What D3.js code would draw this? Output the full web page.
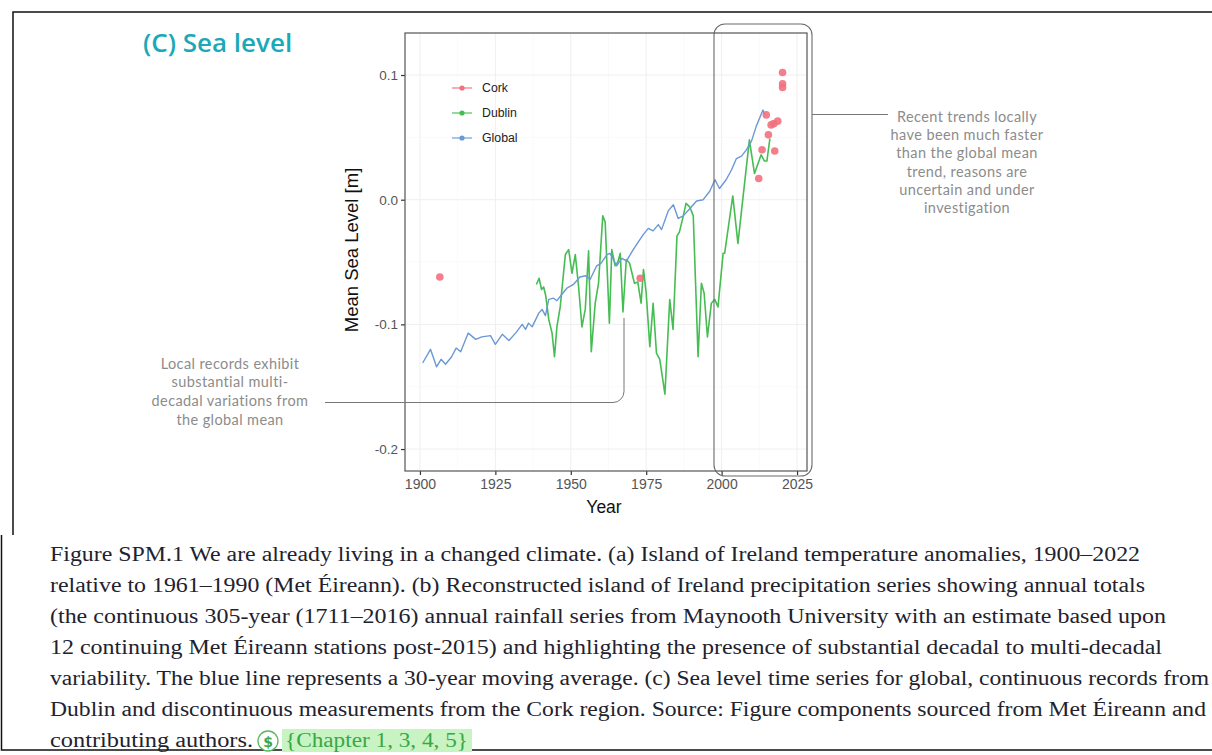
<!DOCTYPE html>
<html><head><meta charset="utf-8">
<script src="https://cdn.jsdelivr.net/npm/d3@7"></script>
<style>body{margin:0;background:#fff} svg{display:block}</style>
</head><body><svg id="c" width="1212" height="755"></svg>
<script>
// ---------------- DATA ----------------
const seriesNames = ["Cork", "Dublin", "Global"];
const globalYears  = [1900.9,1903.5,1905.5,1907,1908.5,1910.5,1912,1913.5,1915,1916,1918.5,1920.5,1923.4,1925,1927.3,1929.5,1931.7,1933.9,1935,1936,1937.2,1939.4,1940.5,1941.6,1942.7,1944.3,1945.4,1947,1948.7,1950.9,1953,1955,1956.4,1958.6,1960,1962,1963,1965.2,1966.9,1968.5,1970.7,1972.9,1974,1975.7,1977.3,1979,1980.1,1982.3,1984,1985.6,1987.3,1989.5,1991.7,1993.9,1996.1,1997.8,1999.3,2001.5,2003.3,2004.9,2006.6,2008.2,2009.9,2011.5,2013.7,2014.3];
const globalValues = [-0.131,-0.120,-0.134,-0.128,-0.132,-0.126,-0.119,-0.122,-0.113,-0.107,-0.112,-0.110,-0.109,-0.116,-0.108,-0.113,-0.107,-0.100,-0.104,-0.099,-0.102,-0.091,-0.088,-0.093,-0.080,-0.079,-0.081,-0.076,-0.071,-0.068,-0.062,-0.061,-0.064,-0.053,-0.051,-0.044,-0.043,-0.053,-0.047,-0.049,-0.040,-0.032,-0.028,-0.023,-0.025,-0.020,-0.024,-0.009,-0.004,-0.015,-0.013,-0.007,-0.001,0.000,0.007,0.016,0.009,0.016,0.024,0.033,0.035,0.040,0.047,0.059,0.072,0.068];

const dublinYears  = [1938.6,1939.5,1940.3,1941,1941.7,1942.7,1943.8,1944.6,1945.4,1946.5,1948.2,1949.3,1950.4,1951.5,1952.6,1953.7,1954.8,1955.9,1956.8,1958.1,1959.2,1960.6,1961.4,1962.8,1963.6,1964.7,1965.6,1966.4,1967.3,1968.4,1969.5,1971.1,1972.2,1973.3,1974.1,1975,1976.2,1977.3,1978.4,1979.5,1981.2,1982.8,1983.9,1985.2,1986,1987.3,1988.2,1989.5,1990.6,1992.2,1993.3,1994.2,1995.3,1996.6,1997.7,1998.8,2000.5,2001,2003.7,2005.4,2009.2,2010.9,2013.1,2014.2,2015,2016];
const dublinValues = [-0.068,-0.063,-0.072,-0.070,-0.077,-0.096,-0.107,-0.126,-0.102,-0.086,-0.044,-0.040,-0.059,-0.044,-0.070,-0.102,-0.088,-0.041,-0.122,-0.083,-0.067,-0.013,-0.018,-0.099,-0.040,-0.053,-0.050,-0.043,-0.090,-0.048,-0.051,-0.067,-0.066,-0.083,-0.056,-0.075,-0.118,-0.083,-0.123,-0.128,-0.156,-0.080,-0.104,-0.029,-0.026,-0.013,-0.003,-0.006,-0.013,-0.126,-0.067,-0.075,-0.110,-0.083,-0.080,-0.086,-0.043,-0.043,0.003,-0.035,0.048,0.021,0.036,0.031,0.031,0.049];

const corkYears  = [1906.6,1973,2012.3,2013.4,2014.8,2015.5,2016.4,2017.3,2017.6,2018.6,2020.2,2020.2,2020.2];
const corkValues = [-0.062,-0.063,0.017,0.040,0.068,0.052,0.060,0.061,0.039,0.063,0.102,0.093,0.090];

const xTicks = [1900, 1925, 1950, 1975, 2000, 2025];
const xTickLabels = ["1900", "1925", "1950", "1975", "2000", "2025"];
const yTicks = [0.1, 0.0, -0.1, -0.2];
const yTickLabels = ["0.1", "0.0", "-0.1", "-0.2"];

const titleText = "(C) Sea level";
const xTitle = "Year";
const yTitle = "Mean Sea Level [m]";
const noteRight = ["Recent trends locally", "have been much faster", "than the global mean", "trend, reasons are", "uncertain and under", "investigation"];
const noteLeft = ["Local records exhibit", "substantial multi-", "decadal variations from", "the global mean"];
const captionLines = [
  "Figure SPM.1 We are already living in a changed climate. (a) Island of Ireland temperature anomalies, 1900\u20132022",
  "relative to 1961\u20131990 (Met \u00c9ireann). (b) Reconstructed island of Ireland precipitation series showing annual totals",
  "(the continuous 305-year (1711\u20132016) annual rainfall series from Maynooth University with an estimate based upon",
  "12 continuing Met \u00c9ireann stations post-2015) and highlighting the presence of substantial decadal to multi-decadal",
  "variability. The blue line represents a 30-year moving average. (c) Sea level time series for global, continuous records from",
  "Dublin and discontinuous measurements from the Cork region. Source: Figure components sourced from Met \u00c9ireann and"
];
const captionLast = "contributing authors.";
const chapterRef = "{Chapter 1, 3, 4, 5}";

// ---------------- STYLE ----------------
const colors = { Cork: "#f2707f", Dublin: "#45bd52", Global: "#6b98d6" };
const svg = d3.select("#c");
svg.append("rect").attr("width", 1212).attr("height", 755).attr("fill", "#ffffff");

const panel = { left: 405, right: 807, top: 33, bottom: 471 };
const x = d3.scaleLinear().domain([1895.05, 2028.3]).range([panel.left, panel.right]);
const y = d3.scaleLinear().domain([-0.2176, 0.1337]).range([panel.bottom, panel.top]);

// outer frame
svg.append("path").attr("d", "M13,535 V12 H1212").attr("fill", "none").attr("stroke", "#111").attr("stroke-width", 1.5);
svg.append("path").attr("d", "M1.5,535 V750 H1212").attr("fill", "none").attr("stroke", "#111").attr("stroke-width", 1.5);

// title
svg.append("text").attr("x", 143).attr("y", 52).text(titleText)
  .attr("font-family", "Open Sans, sans-serif").attr("font-weight", 600)
  .attr("font-size", 26).attr("fill", "#1aa9b8");

// grid
const g = svg.append("g");
const minorX = d3.range(1912.5, 2028, 25);
const minorY = [0.05, -0.05, -0.15];
g.selectAll(".gxm").data(minorX).join("line").attr("x1", d => x(d)).attr("x2", d => x(d))
  .attr("y1", panel.top).attr("y2", panel.bottom).attr("stroke", "#f6f6f6").attr("stroke-width", 0.6);
g.selectAll(".gym").data(minorY).join("line").attr("y1", d => y(d)).attr("y2", d => y(d))
  .attr("x1", panel.left).attr("x2", panel.right).attr("stroke", "#f6f6f6").attr("stroke-width", 0.6);
g.selectAll(".gx").data(xTicks).join("line").attr("x1", d => x(d)).attr("x2", d => x(d))
  .attr("y1", panel.top).attr("y2", panel.bottom).attr("stroke", "#efefef").attr("stroke-width", 1);
g.selectAll(".gy").data(yTicks).join("line").attr("y1", d => y(d)).attr("y2", d => y(d))
  .attr("x1", panel.left).attr("x2", panel.right).attr("stroke", "#efefef").attr("stroke-width", 1);

// axes
const xa = svg.append("g").attr("transform", `translate(0,${panel.bottom})`)
  .call(d3.axisBottom(x).tickValues(xTicks).tickFormat((d, i) => xTickLabels[i]).tickSize(4).tickPadding(4));
const ya = svg.append("g").attr("transform", `translate(${panel.left},0)`)
  .call(d3.axisLeft(y).tickValues(yTicks).tickFormat((d, i) => yTickLabels[i]).tickSize(4).tickPadding(3));
[xa, ya].forEach(a => {
  a.select(".domain").remove();
  a.selectAll(".tick line").attr("stroke", "#333").attr("stroke-width", 1.2);
  a.selectAll(".tick text").attr("fill", "#555").attr("font-family", "Liberation Sans, Arial, sans-serif");
});
xa.selectAll(".tick text").attr("font-size", 14);
ya.selectAll(".tick text").attr("font-size", 13.5);

// panel border
svg.append("rect").attr("x", panel.left).attr("y", panel.top)
  .attr("width", panel.right - panel.left).attr("height", panel.bottom - panel.top)
  .attr("fill", "none").attr("stroke", "#555").attr("stroke-width", 1.2);

// axis titles
svg.append("text").attr("x", (panel.left + panel.right) / 2 - 2).attr("y", 513).attr("text-anchor", "middle")
  .attr("font-family", "Liberation Sans, Arial, sans-serif").attr("font-size", 17.5).attr("fill", "#111").text(xTitle);
svg.append("text").attr("transform", `translate(358,250) rotate(-90)`).attr("text-anchor", "middle")
  .attr("font-family", "Liberation Sans, Arial, sans-serif").attr("font-size", 18.5).attr("fill", "#111").text(yTitle);

// lines
const line = d3.line().x(d => x(d[0])).y(d => y(d[1])).curve(d3.curveLinear);
const dublin = dublinYears.map((d, i) => [d, dublinValues[i]]);
const glob = globalYears.map((d, i) => [d, globalValues[i]]);
svg.append("path").datum(dublin).attr("d", line).attr("fill", "none")
  .attr("stroke", colors.Dublin).attr("stroke-width", 1.6).attr("stroke-linejoin", "round");
svg.append("path").datum(glob).attr("d", line).attr("fill", "none")
  .attr("stroke", colors.Global).attr("stroke-width", 1.4).attr("stroke-linejoin", "round");

// cork points
svg.selectAll(".cork").data(corkYears.map((d, i) => [d, corkValues[i]])).join("circle")
  .attr("cx", d => x(d[0])).attr("cy", d => y(d[1])).attr("r", 3.8)
  .attr("fill", colors.Cork).attr("opacity", 0.9);

// legend
const lg = svg.append("g");
seriesNames.forEach((s, i) => {
  const ly = 88 + i * 25;
  lg.append("line").attr("x1", 452).attr("x2", 472).attr("y1", ly).attr("y2", ly)
    .attr("stroke", colors[s]).attr("stroke-width", 1.4).attr("opacity", 0.8);
  lg.append("circle").attr("cx", 462).attr("cy", ly).attr("r", 2.6).attr("fill", colors[s]);
  lg.append("text").attr("x", 482).attr("y", ly + 4.3).text(s)
    .attr("font-family", "Liberation Sans, Arial, sans-serif").attr("font-size", 12.3).attr("fill", "#222");
});

// annotation: recent trends box
svg.append("rect").attr("x", 714).attr("y", 24).attr("width", 98).attr("height", 452).attr("rx", 11)
  .attr("fill", "none").attr("stroke", "#6a6a6a").attr("stroke-width", 1.1);
svg.append("path").attr("d", "M812,114.5 H888").attr("stroke", "#777").attr("stroke-width", 1).attr("fill", "none");
noteRight.forEach((t, i) => {
  svg.append("text").attr("x", 967).attr("y", 122 + i * 18.2).attr("text-anchor", "middle").text(t)
    .attr("font-family", "Lato, sans-serif").attr("font-size", 14.5).attr("letter-spacing", 0.4).attr("fill", "#8c8c8c");
});

// annotation: local records
svg.append("path").attr("d", "M325,402.5 H613 A11,11 0 0 0 624,391.5 V318")
  .attr("stroke", "#777").attr("stroke-width", 1).attr("fill", "none");
noteLeft.forEach((t, i) => {
  svg.append("text").attr("x", 230).attr("y", 368.5 + i * 18.9).attr("text-anchor", "middle").text(t)
    .attr("font-family", "Lato, sans-serif").attr("font-size", 14.5).attr("letter-spacing", 0.4).attr("fill", "#8c8c8c");
});

// caption
const capEnds = [1140, 1145, 1166, 1162, 1209, 1206];
captionLines.forEach((t, i) => {
  svg.append("text").attr("x", 50).attr("y", 561 + i * 31).text(t)
    .attr("textLength", capEnds[i] - 50).attr("lengthAdjust", "spacingAndGlyphs")
    .attr("font-family", "Liberation Serif, serif").attr("font-size", 20.5).attr("fill", "#22222e");
});
const lastY = 561 + 6 * 31;
svg.append("text").attr("x", 50).attr("y", lastY).text(captionLast)
  .attr("textLength", 203).attr("lengthAdjust", "spacingAndGlyphs")
  .attr("font-family", "Liberation Serif, serif").attr("font-size", 20.5).attr("fill", "#22222e");
svg.append("circle").attr("cx", 268).attr("cy", lastY - 6).attr("r", 10)
  .attr("fill", "#fff").attr("stroke", "#58b85e").attr("stroke-width", 1.3);
svg.append("text").attr("x", 268).attr("y", lastY - 0.5).attr("text-anchor", "middle").text("$")
  .attr("font-family", "DejaVu Sans, sans-serif").attr("font-weight", "bold").attr("font-size", 14).attr("fill", "#3fa648");
svg.append("rect").attr("x", 282).attr("y", lastY - 18).attr("width", 190).attr("height", 23).attr("fill", "#c8f3c3");
svg.append("text").attr("x", 285).attr("y", lastY).text(chapterRef)
  .attr("textLength", 183).attr("lengthAdjust", "spacingAndGlyphs")
  .attr("font-family", "Liberation Serif, serif").attr("font-size", 20.5).attr("fill", "#3aa745");
</script></body></html>
